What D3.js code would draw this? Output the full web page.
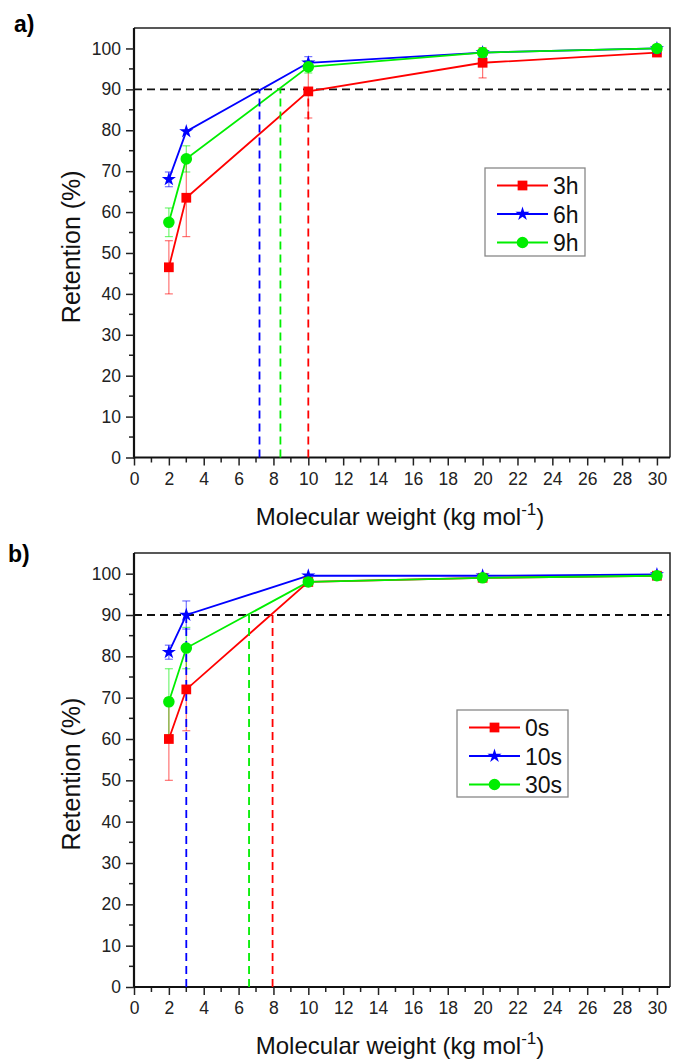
<!DOCTYPE html>
<html>
<head>
<meta charset="utf-8">
<script src="https://cdn.jsdelivr.net/npm/d3@7"></script>
<style>
  body { margin: 0; background: #fff; }
  svg { display: block; font-family: "Liberation Sans", Arial, sans-serif; }
</style>
</head>
<body>
<div id="chart"></div>
<script>
// molecular weights (kg/mol) shared by both panels
var mw = [2, 3, 10, 20, 30];

// panel a) - curing time in hours
var namesA = ["3h", "6h", "9h"];
var retA3h = [46.5, 63.5, 89.5, 96.5, 99];
var errA3h = [6.5, 9.5, 6.5, 3.7, 0.5];
var retA6h = [68, 79.7, 96.5, 99, 100];
var errA6h = [1.8, 0.5, 1.5, 0.5, 0.3];
var retA9h = [57.5, 73, 95.5, 99, 100];
var errA9h = [3.5, 3.2, 1.5, 0.5, 0.3];
var cutA = [10, 7.2, 8.4];   // MWCO crossing at 90 %

// panel b) - exposure time in seconds
var namesB = ["0s", "10s", "30s"];
var retB0s = [60, 72, 98, 99, 99.5];
var errB0s = [10, 10, 0.5, 0.5, 0.3];
var retB10s = [81, 90, 99.5, 99.5, 99.8];
var errB10s = [1.7, 3.4, 0.3, 0.3, 0.2];
var retB30s = [69, 82, 98, 99, 99.5];
var errB30s = [8, 5, 0.5, 0.5, 0.3];
var cutB = [7.95, 3, 6.6];

var xTicks = d3.range(0, 31, 2);
var yTicks = d3.range(0, 101, 10);

var COLORS = ["#ff0000", "#0000ff", "#00ee00"];
var SYMBOLS = [d3.symbolSquare, d3.symbolStar, d3.symbolCircle];
var SYM_SIZE = [95, 62, 105];

var W = 673, H = 1063;
var svg = d3.select("#chart").append("svg")
    .attr("width", W)
    .attr("height", H);

svg.append("rect").attr("width", W).attr("height", H).attr("fill", "#fff");

function drawPanel(top, bottom, label, labelX, labelY, names, rets, errs, cuts, legendBox) {
    var left = 134, right = 670;
    var x = d3.scaleLinear().domain([0, 30.75]).range([left, right]);
    var y = d3.scaleLinear().domain([0, 105]).range([bottom, top]);
    var g = svg.append("g");

    // panel letter
    g.append("text")
        .attr("x", labelX).attr("y", labelY)
        .style("font-size", "23px").style("font-weight", "bold")
        .text(label);

    // frame (top and right)
    g.append("path")
        .attr("d", "M" + left + "," + top + "H" + right + "V" + bottom)
        .attr("fill", "none").attr("stroke", "#222").attr("stroke-width", 1.5);

    // minor ticks
    g.selectAll(".xminor").data(d3.range(1, 31, 2)).enter().append("line")
        .attr("x1", function (d) { return x(d); }).attr("x2", function (d) { return x(d); })
        .attr("y1", bottom).attr("y2", bottom + 5)
        .attr("stroke", "#222").attr("stroke-width", 1.5);
    g.selectAll(".yminor").data(d3.range(5, 105, 10)).enter().append("line")
        .attr("y1", function (d) { return y(d); }).attr("y2", function (d) { return y(d); })
        .attr("x1", left).attr("x2", left - 5)
        .attr("stroke", "#222").attr("stroke-width", 1.5);

    var xAxis = g.append("g")
        .attr("transform", "translate(0," + bottom + ")")
        .call(d3.axisBottom(x).tickValues(xTicks).tickSize(8).tickPadding(7).tickSizeOuter(0));
    var yAxis = g.append("g")
        .attr("transform", "translate(" + left + ",0)")
        .call(d3.axisLeft(y).tickValues(yTicks).tickSize(8).tickPadding(5).tickSizeOuter(0));

    [xAxis, yAxis].forEach(function (a) {
        a.select(".domain").attr("stroke", "#111").attr("stroke-width", 2.2);
        a.selectAll(".tick line").attr("stroke", "#222").attr("stroke-width", 1.5);
        a.selectAll(".tick text").style("font-size", "17.5px").attr("fill", "#222")
            .style("font-family", "'Liberation Sans', Arial, sans-serif");
    });
    // x axis path covers full width
    xAxis.select(".domain").attr("d", "M" + (left - 1) + ",0H" + right);
    yAxis.select(".domain").attr("d", "M0," + (bottom + 1) + "V" + top);

    // axis titles
    var xt = g.append("text")
        .attr("x", (left + right) / 2 - 2).attr("y", bottom + 67)
        .attr("text-anchor", "middle")
        .style("font-size", "24px").attr("fill", "#111");
    xt.append("tspan").text("Molecular weight (kg mol");
    xt.append("tspan").attr("dy", -10).style("font-size", "17px").text("-1");
    xt.append("tspan").attr("dy", 10).text(")");

    g.append("text")
        .attr("transform", "translate(80," + ((top + bottom) / 2 + 4) + ") rotate(-90)")
        .attr("text-anchor", "middle")
        .style("font-size", "25px").attr("fill", "#111")
        .text("Retention (%)");

    // 90 % reference line
    g.append("line")
        .attr("x1", x(0)).attr("x2", right)
        .attr("y1", y(90)).attr("y2", y(90))
        .attr("stroke", "#111").attr("stroke-width", 1.8)
        .attr("stroke-dasharray", "8,5");

    var line = d3.line()
        .x(function (d) { return x(d[0]); })
        .y(function (d) { return y(d[1]); });

    // error bars
    rets.forEach(function (r, i) {
        var eb = g.append("g").attr("stroke", COLORS[i]).attr("stroke-opacity", 0.55).attr("stroke-width", 1.2);
        mw.forEach(function (m, k) {
            var e = errs[i][k];
            if (e < 0.8) return;
            eb.append("line").attr("x1", x(m)).attr("x2", x(m))
                .attr("y1", y(r[k] - e)).attr("y2", y(r[k] + e));
            [r[k] - e, r[k] + e].forEach(function (v) {
                eb.append("line").attr("x1", x(m) - 4).attr("x2", x(m) + 4)
                    .attr("y1", y(v)).attr("y2", y(v));
            });
        });
    });

    // series lines
    rets.forEach(function (r, i) {
        g.append("path")
            .datum(d3.zip(mw, r))
            .attr("d", line)
            .attr("fill", "none")
            .attr("stroke", COLORS[i])
            .attr("stroke-width", 1.8);
    });

    // vertical cut-off lines
    cuts.forEach(function (c, i) {
        g.append("line")
            .attr("x1", x(c)).attr("x2", x(c))
            .attr("y1", y(0)).attr("y2", y(90))
            .attr("stroke", COLORS[i]).attr("stroke-width", 1.8)
            .attr("stroke-dasharray", "8,5");
    });

    // markers
    rets.forEach(function (r, i) {
        g.selectAll(".m" + i).data(d3.zip(mw, r)).enter().append("path")
            .attr("transform", function (d) { return "translate(" + x(d[0]) + "," + y(d[1]) + ")"; })
            .attr("d", d3.symbol().type(SYMBOLS[i]).size(SYM_SIZE[i]))
            .attr("fill", COLORS[i]);
    });

    // legend
    var lg = g.append("g").attr("transform", "translate(" + legendBox[0] + "," + legendBox[1] + ")");
    lg.append("rect")
        .attr("width", legendBox[2]).attr("height", legendBox[3])
        .attr("fill", "#fff").attr("stroke", "#888").attr("stroke-width", 1.3);
    names.forEach(function (n, i) {
        var yy = 17.5 + i * 28.5;
        lg.append("line").attr("x1", 12).attr("x2", 63).attr("y1", yy).attr("y2", yy)
            .attr("stroke", COLORS[i]).attr("stroke-width", 1.8);
        lg.append("path")
            .attr("transform", "translate(37.5," + yy + ")")
            .attr("d", d3.symbol().type(SYMBOLS[i]).size(SYM_SIZE[i]))
            .attr("fill", COLORS[i]);
        lg.append("text").attr("x", 68).attr("y", yy + 8.5)
            .style("font-size", "23px").attr("fill", "#111")
            .text(n);
    });
}

drawPanel(28, 457.5, "a)", 14, 32, namesA,
    [retA3h, retA6h, retA9h], [errA3h, errA6h, errA9h], cutA, [485, 168, 100, 88]);
drawPanel(553, 987, "b)", 8, 562, namesB,
    [retB0s, retB10s, retB30s], [errB0s, errB10s, errB30s], cutB, [457, 710, 111, 87]);
</script>
</body>
</html>
